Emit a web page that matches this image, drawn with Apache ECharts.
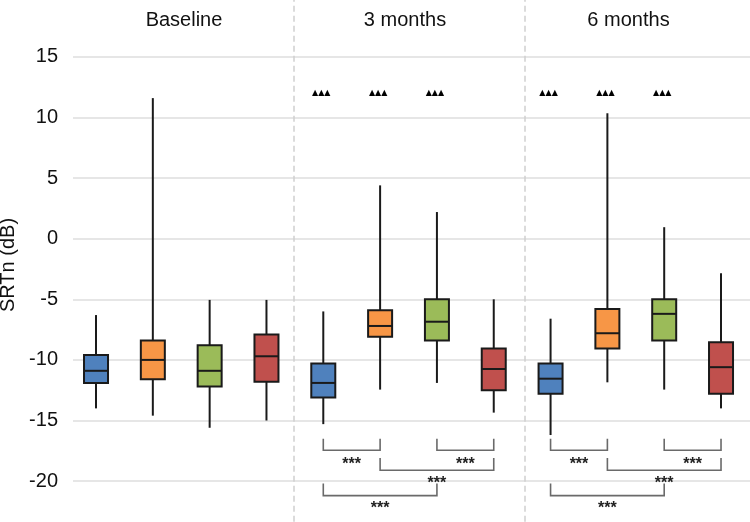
<!DOCTYPE html>
<html><head><meta charset="utf-8">
<script src="https://cdn.jsdelivr.net/npm/echarts@6/dist/echarts.min.js"></script>
<style>html,body{margin:0;padding:0;background:#fff}#c{width:750px;height:522px}</style>
</head><body><div id="c"></div>
<script>
const panels = ['Baseline', '3 months', '6 months'];
const groupColors = ['#4f81bd', '#f79646', '#9bbb59', '#c0504d'];
// each box: [lower whisker, Q1, median, Q3, upper whisker]
const baselineStats = [
  [-14.0, -11.9, -10.9, -9.6, -6.3],
  [-14.6, -11.6, -10.0, -8.4, 11.6],
  [-15.6, -12.2, -10.9, -8.8, -5.05],
  [-15.0, -11.8, -9.7, -7.9, -5.05]
];
const month3Stats = [
  [-15.3, -13.1, -11.9, -10.3, -6.0],
  [-12.45, -8.1, -7.2, -5.9, 4.4],
  [-11.9, -8.4, -6.85, -5.0, 2.2],
  [-14.35, -12.5, -10.75, -9.05, -5.0]
];
const month6Stats = [
  [-16.2, -12.8, -11.55, -10.3, -6.6],
  [-11.85, -9.05, -7.8, -5.8, 10.35],
  [-12.45, -8.4, -6.2, -5.0, 0.95],
  [-14.0, -12.8, -10.6, -8.55, -2.85]
];
const yTicks = [-20, -15, -10, -5, 0, 5, 10, 15];
const sigLabel = '***';
const trendLabel = '▲▲▲';
// significance brackets in each follow-up panel: [fromGroup, toGroup, tier]
const brackets = [[0, 1, 0], [2, 3, 0], [1, 3, 1], [0, 2, 2]];
// groups marked against baseline in follow-up panels
const trendGroups = [0, 1, 2];
const followUpPanels = [1, 2];
</script>
<script>
const allStats = [baselineStats, month3Stats, month6Stats];
const boxData = [];
allStats.forEach((ps, p) => ps.forEach((s, g) => boxData.push([p * 4 + g].concat(s).concat([g]))));

// bracket tier layout (axis units): [top, bottom, label]
const tierY = [[-16.5, -17.45, -18.4], [-18.1, -19.1, -19.95], [-20.2, -21.2, -22.0]];
const bracketData = [];
followUpPanels.forEach(p => brackets.forEach(b => bracketData.push([p * 4 + b[0], p * 4 + b[1], b[2]])));
const trendData = [];
followUpPanels.forEach(p => trendGroups.forEach(g => trendData.push([p * 4 + g, 12])));

const font = '"Liberation Sans", Arial, sans-serif';
const titleX = [184, 405, 628.5];
const chart = echarts.init(document.getElementById('c'));
chart.setOption({
  animation: false,
  backgroundColor: '#fff',
  grid: { left: 73, right: 0, top: -3.7, bottom: -19.7, containLabel: false, outerBoundsMode: 'none' },
  xAxis: { type: 'value', min: -0.405, max: 11.51, show: false, splitLine: { show: false } },
  yAxis: {
    type: 'value', min: -25, max: 20, interval: 5,
    axisLine: { show: false }, axisTick: { show: false },
    axisLabel: {
      margin: 15, fontSize: 20, color: '#111', fontFamily: font,
      formatter: v => (yTicks.indexOf(v) >= 0 ? String(v) : '')
    },
    splitLine: { lineStyle: { color: '#dedede', width: 1.5 } },
    name: 'SRTn (dB)', nameLocation: 'middle', nameRotate: 90, nameGap: 50,
    nameTextStyle: { fontSize: 20, color: '#111', fontFamily: font, padding: [0, 0, 0, 8] }
  },
  graphic: panels.map((t, i) => ({
    type: 'text', x: titleX[i], y: 20,
    style: { text: t, fontSize: 20, fontFamily: font, fill: '#111', align: 'center', verticalAlign: 'middle' }
  })),
  series: [
    {
      type: 'custom', name: 'sep', data: [[3.48, 0]], silent: true,
      renderItem: () => ({ type: 'group', children: [] }),
      markLine: {
        symbol: 'none', silent: true, label: { show: false },
        lineStyle: { color: '#cfcfcf', type: [6, 4], width: 1.5 },
        data: [{ xAxis: 3.48 }, { xAxis: 7.54 }]
      }
    },
    {
      type: 'custom', name: 'boxes', data: boxData, encode: { x: 0, y: [1, 2, 3, 4, 5] },
      renderItem: (params, api) => {
        const x = api.value(0);
        const lo = api.coord([x, api.value(1)]);
        const q1 = api.coord([x, api.value(2)]);
        const md = api.coord([x, api.value(3)]);
        const q3 = api.coord([x, api.value(4)]);
        const hi = api.coord([x, api.value(5)]);
        const col = groupColors[api.value(6)];
        const w = 24, cx = lo[0];
        const ls = { stroke: '#1a1a1a', lineWidth: 2 };
        return {
          type: 'group', children: [
            { type: 'line', shape: { x1: cx, y1: hi[1], x2: cx, y2: q3[1] }, style: ls },
            { type: 'line', shape: { x1: cx, y1: q1[1], x2: cx, y2: lo[1] }, style: ls },
            { type: 'rect', shape: { x: cx - w / 2, y: q3[1], width: w, height: q1[1] - q3[1] }, style: { fill: col, stroke: '#1a1a1a', lineWidth: 2 } },
            { type: 'line', shape: { x1: cx - w / 2, y1: md[1], x2: cx + w / 2, y2: md[1] }, style: ls }
          ]
        };
      }
    },
    {
      type: 'custom', name: 'brackets', data: bracketData, clip: false,
      renderItem: (params, api) => {
        const a = api.value(0), b = api.value(1), t = tierY[api.value(2)];
        const pa = api.coord([a, t[0]]), pb = api.coord([b, t[0]]);
        const yb = api.coord([a, t[1]])[1];
        const yl = api.coord([a, t[2]])[1];
        return {
          type: 'group', children: [
            { type: 'polyline', shape: { points: [[pa[0], pa[1]], [pa[0], yb], [pb[0], yb], [pb[0], pb[1]]] }, style: { stroke: '#6a6a6a', lineWidth: 1.6, fill: null } },
            { type: 'text', x: (pa[0] + pb[0]) / 2, y: yl + 3, style: { text: sigLabel, fontSize: 16, fontWeight: 'bold', fontFamily: font, fill: '#222', align: 'center', verticalAlign: 'middle' } }
          ]
        };
      }
    },
    {
      type: 'custom', name: 'trend', data: trendData,
      renderItem: (params, api) => {
        const p = api.coord([api.value(0), api.value(1)]);
        return { type: 'text', x: p[0] - 2, y: p[1], style: { text: trendLabel, fontSize: 8, fontFamily: '"DejaVu Sans", sans-serif', fill: '#000', align: 'center', verticalAlign: 'middle' } };
      }
    }
  ]
});
</script>
</body></html>
